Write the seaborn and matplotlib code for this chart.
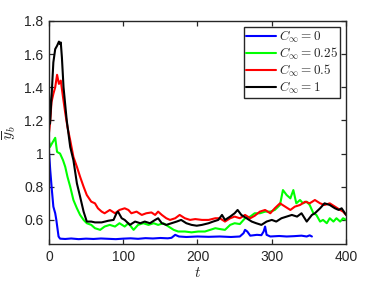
import numpy as np
import pandas as pd
import matplotlib
matplotlib.use("Agg")
import matplotlib.pyplot as plt
import seaborn as sns

# values
t_blue = [0, 1.8, 4, 6, 8.5, 10, 11.5, 13, 15, 22, 30, 40, 50, 60, 70, 80, 90, 100, 110, 120,
          130, 140, 150, 160, 165, 170, 175, 185, 200, 215, 230, 245, 257, 262, 264, 267, 271,
          280, 286, 289, 291, 293, 298, 310, 320, 330, 340, 347, 351, 354]
y_blue = [1.02, 0.90, 0.78, 0.68, 0.64, 0.60, 0.55, 0.50, 0.487, 0.485, 0.488, 0.484, 0.487, 0.485,
          0.488, 0.486, 0.484, 0.487, 0.489, 0.486, 0.490, 0.488, 0.491, 0.489, 0.492, 0.51, 0.50,
          0.497, 0.50, 0.498, 0.50, 0.497, 0.50, 0.52, 0.54, 0.53, 0.505, 0.51, 0.508, 0.53, 0.56,
          0.51, 0.50, 0.503, 0.50, 0.502, 0.505, 0.50, 0.507, 0.50]

t_green = [0, 1.5, 4, 8.5, 11, 15, 19, 22, 25, 28.7, 33, 37.7, 42, 46.7, 51, 57, 62, 69, 75, 82,
           89, 95, 102, 107, 114, 120, 127, 134, 141, 147, 154, 161, 168, 174, 183, 192, 201, 210,
           217, 224, 230, 237, 244, 250, 257, 264, 271, 277, 284, 291, 298, 304, 311, 315, 320,
           325, 329, 333, 338, 342, 347, 351, 356, 360, 365, 369, 374, 378, 383, 387, 392, 396, 400]
y_green = [1.08, 1.04, 1.06, 1.095, 1.01, 1.0, 0.96, 0.92, 0.86, 0.80, 0.72, 0.67, 0.63, 0.60, 0.58,
           0.57, 0.55, 0.54, 0.56, 0.57, 0.56, 0.58, 0.56, 0.58, 0.54, 0.57, 0.58, 0.57, 0.58, 0.57,
           0.58, 0.56, 0.54, 0.53, 0.53, 0.525, 0.53, 0.53, 0.54, 0.55, 0.545, 0.54, 0.57, 0.58,
           0.575, 0.61, 0.62, 0.64, 0.64, 0.65, 0.65, 0.66, 0.69, 0.78, 0.75, 0.73, 0.78, 0.70,
           0.72, 0.70, 0.71, 0.69, 0.64, 0.63, 0.59, 0.60, 0.58, 0.61, 0.59, 0.61, 0.59, 0.61, 0.60]

t_red = [0, 1.5, 3.5, 6, 8.5, 11, 13.5, 16, 19, 22, 25, 28.7, 33, 37.7, 42, 46.7, 51, 57, 62, 66,
         71, 75, 82, 89, 95, 102, 107, 111, 118, 125, 131, 138, 143, 147, 152, 158, 163, 170, 176,
         183, 190, 197, 206, 215, 224, 230, 237, 244, 250, 257, 264, 271, 277, 284, 291, 298, 304,
         311, 318, 325, 331, 338, 345, 351, 358, 365, 371, 378, 385, 392, 396, 400]
y_red = [1.12, 1.18, 1.31, 1.36, 1.40, 1.475, 1.42, 1.44, 1.34, 1.245, 1.16, 1.08, 0.98, 0.92,
         0.86, 0.80, 0.75, 0.71, 0.70, 0.67, 0.65, 0.64, 0.66, 0.64, 0.66, 0.67, 0.66, 0.64, 0.65,
         0.63, 0.64, 0.645, 0.63, 0.65, 0.63, 0.61, 0.60, 0.61, 0.63, 0.61, 0.60, 0.605, 0.60,
         0.60, 0.61, 0.61, 0.59, 0.61, 0.62, 0.61, 0.63, 0.61, 0.625, 0.65, 0.66, 0.64, 0.67,
         0.70, 0.68, 0.66, 0.68, 0.69, 0.71, 0.70, 0.72, 0.70, 0.69, 0.70, 0.68, 0.66, 0.65, 0.63]

t_black = [0, 1.5, 4, 6, 8.5, 11, 13.5, 15, 16, 17.5, 19.7, 24, 28.7, 33, 37.7, 42, 46.7, 51, 57,
           62, 71, 80, 87, 91, 93, 98, 102, 109, 116, 123, 129, 136, 143, 147, 152, 158, 165, 172,
           178, 185, 192, 199, 206, 215, 221, 228, 233, 237, 244, 250, 254, 259, 266, 273, 279,
           286, 293, 300, 306, 313, 320, 327, 334, 340, 347, 354, 358, 365, 371, 378, 385, 390,
           394, 400]
y_black = [1.38, 1.18, 1.38, 1.55, 1.63, 1.65, 1.675, 1.66, 1.67, 1.58, 1.40, 1.20, 1.04, 0.96,
           0.82, 0.74, 0.65, 0.59, 0.59, 0.585, 0.585, 0.595, 0.60, 0.64, 0.65, 0.61, 0.60, 0.57,
           0.59, 0.58, 0.59, 0.58, 0.60, 0.61, 0.58, 0.57, 0.58, 0.59, 0.60, 0.58, 0.57, 0.565,
           0.57, 0.58, 0.59, 0.60, 0.63, 0.60, 0.62, 0.64, 0.66, 0.63, 0.61, 0.59, 0.58, 0.57,
           0.59, 0.60, 0.59, 0.61, 0.62, 0.63, 0.62, 0.64, 0.59, 0.63, 0.64, 0.67, 0.70, 0.69,
           0.67, 0.66, 0.67, 0.63]

series = [
    (t_blue, y_blue, "#0000ff", r"$C_\infty = 0$"),
    (t_green, y_green, "#00ff00", r"$C_\infty = 0.25$"),
    (t_red, y_red, "#ff0000", r"$C_\infty = 0.5$"),
    (t_black, y_black, "#000000", r"$C_\infty = 1$"),
]

sns.set_style("ticks")
plt.rcParams['font.family'] = ['Liberation Sans', 'DejaVu Sans']
plt.rcParams['mathtext.fontset'] = 'cm'

fig = plt.figure(figsize=(3.82, 2.86), dpi=100)
ax = fig.add_axes([0.128, 0.147, 0.778, 0.780])

for tt, yy, col, lab in series:
    sns.lineplot(x=tt, y=yy, ax=ax, color=col, label=lab, linewidth=1.5, sort=False)

ax.set_xlim(0, 400)
ax.set_ylim(0.455, 1.8)
ax.set_xticks([0, 100, 200, 300, 400])
ax.set_yticks([0.6, 0.8, 1.0, 1.2, 1.4, 1.6, 1.8])
ax.set_yticklabels(["0.6", "0.8", "1", "1.2", "1.4", "1.6", "1.8"])
ax.tick_params(direction="in", length=3.5, width=0.9, top=True, right=True,
               labelsize=10, colors="#262626", labelcolor="#262626", pad=4)
for sp in ax.spines.values():
    sp.set_color("#262626")
    sp.set_linewidth(1.0)

ax.set_xlabel(r"$t$", fontsize=11, labelpad=2, color="#262626")
ax.set_ylabel(r"$\overline{y}_b$", fontsize=11, labelpad=4, color="#262626")

leg = ax.legend(loc="upper right", fontsize=9.5, frameon=True, fancybox=False,
                framealpha=1, edgecolor="#262626", borderpad=0.15, labelspacing=0.05,
                handlelength=2.3, handletextpad=0.2, borderaxespad=0.45)
leg.get_frame().set_linewidth(1.0)

fig.savefig("out.png", dpi=100)
